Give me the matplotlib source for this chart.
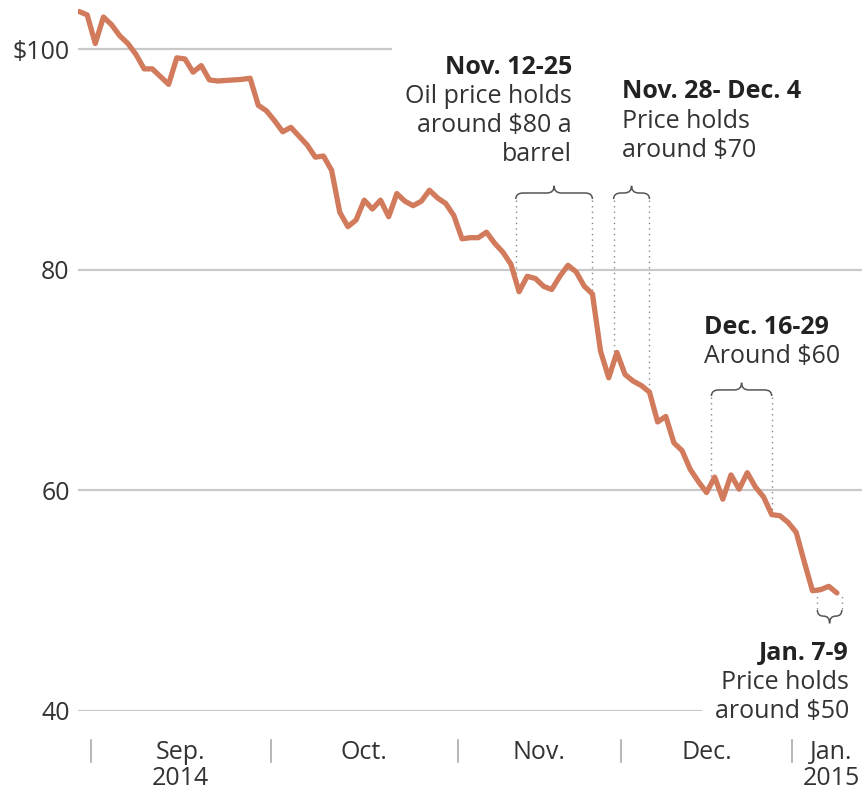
import numpy as np
import pandas as pd
import matplotlib
matplotlib.use("Agg")
import matplotlib.pyplot as plt
from matplotlib.path import Path
from matplotlib.patches import PathPatch
import matplotlib.transforms as mtransforms

plt.rcParams['font.family'] = ['Open Sans', 'DejaVu Sans']

# ---- data ----
holidays = ['2014-12-25', '2014-12-26', '2015-01-01']
days = [d for d in pd.bdate_range('2014-08-28', '2015-01-09') if d.strftime('%Y-%m-%d') not in holidays]

prices = [103.4, 103.1, 100.5, 102.9, 102.2, 101.2, 100.5, 99.5, 98.2, 98.2,
          97.5, 96.8, 99.2, 99.1, 97.9, 98.5, 97.2, 97.1, 97.15, 97.2,
          97.25, 97.35, 94.9, 94.4, 93.5, 92.5, 92.9, 92.1, 91.3, 90.2,
          90.3, 89.0, 85.2, 83.9, 84.5, 86.3, 85.5, 86.3, 84.8, 86.9,
          86.2, 85.8, 86.2, 87.2, 86.5, 86.0, 84.9, 82.8, 82.9, 82.9,
          83.4, 82.4, 81.6, 80.5, 78.0, 79.4, 79.2, 78.5, 78.2, 79.4,
          80.4, 79.8, 78.5, 77.8, 72.6, 70.2, 72.5, 70.5, 69.9, 69.5,
          68.9, 66.2, 66.7, 64.3, 63.6, 61.9, 60.8, 59.8, 61.2, 59.2,
          61.4, 60.1, 61.6, 60.3, 59.4, 57.8, 57.7, 57.1, 56.2, 53.5,
          50.9, 51.0, 51.3, 50.7]

y_ticks = [40, 60, 80, 100]
y_tick_labels = ['40', '60', '80', '$100']
month_starts = ['2014-09', '2014-10', '2014-11', '2014-12', '2015-01']
month_labels = ['Sep.\n2014', 'Oct.', 'Nov.', 'Dec.', 'Jan.\n2015']

# (start, end, bold title, text)
annotations = [
    ('2014-11-12', '2014-11-25', 'Nov. 12-25', 'Oil price holds\naround $80 a\nbarrel'),
    ('2014-11-28', '2014-12-04', 'Nov. 28- Dec. 4', 'Price holds\naround $70'),
    ('2014-12-16', '2014-12-29', 'Dec. 16-29', 'Around $60'),
    ('2015-01-07', '2015-01-09', 'Jan. 7-9', 'Price holds\naround $50'),
]
bracket_levels = [86.95, 86.95, 69.1, 48.6]

LINE = '#D27A5C'
GRID = '#c9c9c9'
TXT = '#333333'
FS = 18

x = np.arange(len(prices))
day_str = [d.strftime('%Y-%m-%d') for d in days]
idx = {s: i for i, s in enumerate(day_str)}

W, H = 866, 795
fig = plt.figure(figsize=(W / 100, H / 100), dpi=100)
left_px, right_px, top_px, bot_px = 78, 862, 5, 711
ax = fig.add_axes([left_px / W, 1 - bot_px / H, (right_px - left_px) / W, (bot_px - top_px) / H])
ax.set_xlim(-0.12, -0.12 + (right_px - left_px) / 8.15)
ax.set_ylim(40, 40 + (bot_px - top_px) / 11.033)
for s in ax.spines.values():
    s.set_visible(False)

xmin, xmax = ax.get_xlim()


def px2x(px):
    return xmin + (px - left_px) / 8.15


def py2v(py):
    return 40 + (bot_px - py) / 11.033


# gridlines
for v in y_ticks:
    if v == 100:
        end = px2x(392)
    elif v == 40:
        end = px2x(702)
    else:
        end = xmax
    ax.hlines(v, xmin, end, color=GRID, lw=1.6, zorder=1)

ax.set_yticks(y_ticks)
ax.set_yticklabels(y_tick_labels, fontsize=FS, color=TXT)
ax.tick_params(axis='y', length=0, pad=6)
ax.set_xticks([])

ax.plot(x, prices, color=LINE, lw=3.8, solid_joinstyle='round', solid_capstyle='round', zorder=3)

# month ticks and labels
trans = mtransforms.blended_transform_factory(ax.transData, ax.transAxes)
bounds = []
for m in month_starts:
    first = next(i for i, s in enumerate(day_str) if s.startswith(m))
    bounds.append(first - 0.5)
for b in bounds:
    ax.plot([b, b], [-0.041, -0.072], color='#aaaaaa', lw=1.2, transform=trans, clip_on=False)
for i, lab in enumerate(month_labels):
    if i + 1 < len(bounds):
        cx = (bounds[i] + bounds[i + 1]) / 2
    else:
        cx = bounds[i] + 4.8
    ax.text(cx, -0.041, lab, transform=trans, ha='center', va='top', fontsize=FS,
            color=TXT, linespacing=1.05)


def brace(x0, x1, yb, up=True, h=0.55, t=0.65, r=0.9):
    s = 1 if up else -1
    xm = (x0 + x1) / 2
    r = min(r, (x1 - x0) / 4)
    verts = [(x0, yb - s * h), (x0, yb), (x0 + r, yb),
             (xm - r, yb), (xm, yb), (xm, yb + s * t),
             (xm, yb), (xm + r, yb),
             (x1 - r, yb), (x1, yb), (x1, yb - s * h)]
    codes = [Path.MOVETO, Path.CURVE3, Path.CURVE3,
             Path.LINETO, Path.CURVE3, Path.CURVE3,
             Path.CURVE3, Path.CURVE3,
             Path.LINETO, Path.CURVE3, Path.CURVE3]
    ax.add_patch(PathPatch(Path(verts, codes), fill=False, ec='#555555', lw=1.1, zorder=4))


for (a, b, title, body), lev in zip(annotations, bracket_levels):
    x0, x1 = idx[a] - 0.4, idx[b]
    if a.startswith('2015'):
        x1 = idx[b] + 0.6
    up = lev > np.interp(x0, x, prices)
    brace(x0, x1, lev, up=up)
    for xx in (x0, x1):
        yv = np.interp(xx, x, prices)
        ytop = lev - 0.6 if up else lev + 0.6
        ax.plot([xx, xx], [ytop, yv], color='#888888', lw=1.0, ls=(0, (1, 3)), zorder=2)


def txt(xd, yv, title, body, ha):
    ax.text(xd, yv, title, ha=ha, va='baseline', fontsize=FS, fontweight='bold', color='#222222')
    for k, ln in enumerate(body.split('\n')):
        ax.text(xd, yv - 2.63 * (k + 1), ln, ha=ha, va='baseline', fontsize=FS, color=TXT)


txt(px2x(572), py2v(73.5), annotations[0][2], annotations[0][3], 'right')
txt(px2x(622), py2v(98.5), annotations[1][2], annotations[1][3], 'left')
txt(px2x(704), py2v(333.5), annotations[2][2], annotations[2][3], 'left')
txt(px2x(849), py2v(660), annotations[3][2], annotations[3][3], 'right')

fig.savefig('out.png', dpi=100, facecolor='white')
